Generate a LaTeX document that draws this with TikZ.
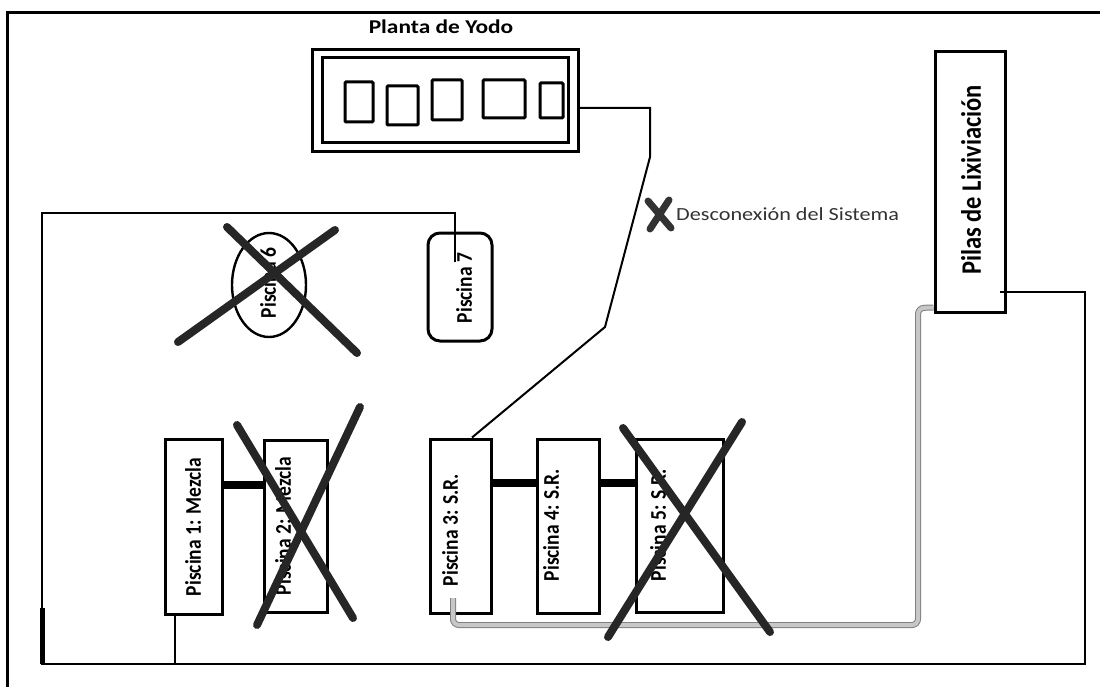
\documentclass[tikz,border=0pt]{standalone}
\usepackage{fontspec}
\setmainfont{Carlito}
\usetikzlibrary{shapes.geometric,calc}
\begin{document}
\begin{tikzpicture}[x=1pt,y=-1pt,
  frame/.style={line width=3pt},
  pool/.style={draw, fill=white, line width=3pt, inner sep=0pt},
  sq/.style={draw, line width=3pt, inner sep=0pt, rounded corners=1pt},
  lbl/.style={rotate=90, font=\bfseries\fontsize{19.5}{20}\selectfont, inner sep=0pt},
  pipe/.style={line width=2.2pt},
  thickpipe/.style={line width=8pt},
  crossline/.style={line width=8pt, line cap=round, draw=black!85},
  graypipe/.style={draw=black!50, line width=1pt, double=black!22, double distance=4pt, rounded corners=6pt},
]
\useasboundingbox (0,0) rectangle (1100,687);
% outer frame
\draw[frame] (6,13) -- (1100,13);
\draw[frame] (7,13) -- (7,687);

% Planta de Yodo
\node[font=\bfseries\fontsize{19.5}{20}\selectfont, inner sep=0pt] (titulo) at (441,27) {\scalebox{1.2}[1]{Planta de Yodo}};
\node[draw, line width=3pt, minimum width=266pt, minimum height=102pt, inner sep=0pt] (plantaout) at (445,101) {};
\node[draw, line width=3pt, minimum width=246pt, minimum height=85pt, inner sep=0pt] (plantain) at (445,100.5) {};
\node[sq, minimum width=28pt, minimum height=40pt] (s1) at (359,102) {};
\node[sq, minimum width=31pt, minimum height=39pt] (s2) at (402.5,105.5) {};
\node[sq, minimum width=30pt, minimum height=40pt] (s3) at (447,100) {};
\node[sq, minimum width=42pt, minimum height=38pt] (s4) at (504,99) {};
\node[sq, minimum width=23pt, minimum height=35pt] (s5) at (551.5,100.5) {};

% Pilas de Lixiviacion
\node[pool, minimum width=70pt, minimum height=260pt] (pilas) at (970,182) {};
\node[lbl, font=\bfseries\fontsize{24.5}{26}\selectfont] (pilast) at (971,180) {\scalebox{1}[1.15]{Pilas de Lixiviación}};

% pools
\node[pool, minimum width=57pt, minimum height=175pt] (p1) at (193.5,526.5) {};
\node[pool, minimum width=63pt, minimum height=172pt] (p2) at (295.5,526) {};
\node[pool, minimum width=61pt, minimum height=174pt] (p3) at (460.5,526) {};
\node[pool, minimum width=62pt, minimum height=174pt] (p4) at (568,526) {};
\node[pool, minimum width=87pt, minimum height=173pt] (p5) at (679.5,525.5) {};
\node[draw, fill=white, ellipse, line width=2.4pt, minimum width=74pt, minimum height=104pt, inner sep=0pt] (p6) at (269,285) {};
\node[pool, rounded corners=12pt, minimum width=64pt, minimum height=108pt] (p7) at (460,287) {};

\node[lbl] (l1) at (193,527) {\scalebox{1}[1.15]{Piscina 1: Mezcla}};
\node[lbl] (l2) at (283,526) {\scalebox{1}[1.15]{Piscina 2: Mezcla}};
\node[lbl] (l3) at (450,530) {\scalebox{1}[1.15]{Piscina 3: S.R.}};
\node[lbl] (l4) at (551,525) {\scalebox{1}[1.15]{Piscina 4: S.R.}};
\node[lbl] (l5) at (658,525) {\scalebox{1}[1.15]{Piscina 5: S.R.}};
\node[lbl] (l6) at (268,283) {\scalebox{1}[1.15]{Piscina 6}};
\node[lbl] (l7) at (464,288) {\scalebox{1}[1.15]{Piscina 7}};

% thick connectors between pools
\coordinate (h12) at (0,485);
\coordinate (h34) at (0,483);
\draw[thickpipe] (p1.east |- h12) -- (p2.west |- h12);
\draw[thickpipe] (p3.east |- h34) -- (p4.west |- h34);
\draw[thickpipe] (p4.east |- h34) -- (p5.west |- h34);

% connector Planta -> Piscina 3
\coordinate (k0) at (0,108);
\draw[pipe, line width=2pt] (plantaout.east |- k0) -- (650,108) -- (650,157) -- (605,327) -- ([xshift=11.5pt]p3.north);

% big loop Piscina 7 -> ... -> Pilas
\coordinate (p7in) at (455,262);
\coordinate (pilasin) at (1000,292);
\draw[pipe] (p7in) -- (455,213) -- (42,213) -- (42,664) -- (1085,664) -- (1085,292) -- (pilasin);
\draw[line width=5pt] (42,608) -- (42,664);
\draw[pipe] ([xshift=-18.5pt]p1.south) -- (175,664);

% gray return line Piscina 3 -> Pilas
\coordinate (p3in) at (453,598);
\draw[graypipe] (p3in) -- (453,625) -- (918,625) -- (918,308) -- ([yshift=6pt]pilas.south west);

% Desconexion
\coordinate (xm) at (660,214);
\draw[line width=7pt, line cap=round, draw=black!80] (648,201) -- (671,228);
\draw[line width=7pt, line cap=round, draw=black!80] (669,200) -- (650,229);
\node[anchor=west, inner sep=0pt, font=\fontsize{18.5}{19}\selectfont, text=black!80] (desc) at (676,214) {\scalebox{1.2}[1]{Desconexión del Sistema}};

% crosses
\draw[crossline] (178,342) -- (335,230);
\draw[crossline] (227,227) -- (357,353);
\draw[crossline] (237,425) -- (353,618);
\draw[crossline] (257,625) -- (360,407);
\draw[crossline] (623,428) -- (770,632);
\draw[crossline] (608,637) -- (742,422);
\end{tikzpicture}
\end{document}
